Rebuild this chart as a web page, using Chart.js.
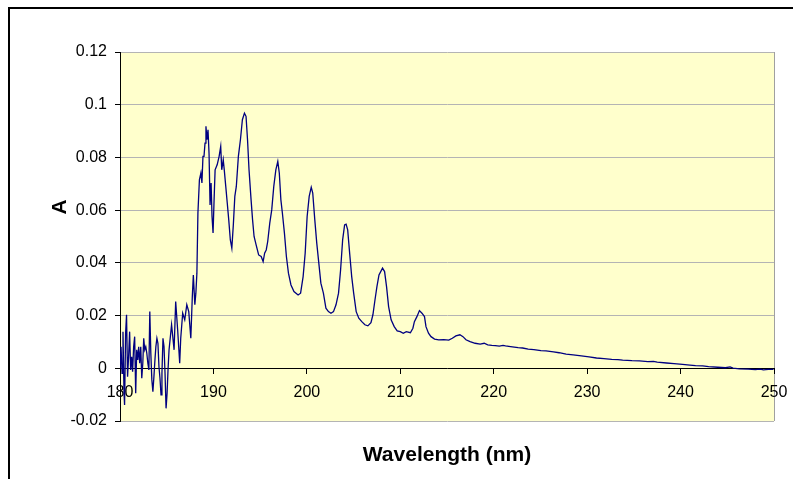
<!DOCTYPE html>
<html lang="en">
<head>
    <meta charset="UTF-8">
    <title>Absorbance spectrum</title>
    <script src="https://cdn.jsdelivr.net/npm/chart.js"></script>
    <style>
        body {
            margin: 0;
            padding: 0;
            background-color: #ffffff;
        }
        #wrap {
            width: 793px;
            height: 479px;
        }
    </style>
</head>
<body>
    <div id="wrap"><canvas id="spectrum" width="793" height="479"></canvas></div>
    <script>
        // wavelength (nm)
        const wavelength = [
            180.00, 180.11, 180.22, 180.32, 180.43, 180.49, 180.60, 180.70, 180.81, 180.92,
            181.03, 181.14, 181.25, 181.35, 181.46, 181.57, 181.68, 181.79, 181.90, 182.00,
            182.11, 182.22, 182.33, 182.44, 182.54, 182.65, 182.76, 182.87, 182.98, 183.09,
            183.19, 183.30, 183.41, 183.52, 183.63, 183.74, 183.84, 183.95, 184.06, 184.17,
            184.28, 184.39, 184.49, 184.60, 184.71, 184.82, 184.93, 185.04, 185.14, 185.25,
            185.52, 185.79, 185.96, 186.17, 186.39, 186.50, 186.71, 186.93, 187.15, 187.36,
            187.58, 187.74, 187.85, 188.01, 188.12, 188.23, 188.34, 188.50, 188.66, 188.77,
            188.88, 188.99, 189.10, 189.20, 189.31, 189.42, 189.53, 189.64, 189.75, 189.85,
            189.96, 190.07, 190.18, 190.40, 190.61, 190.78, 190.89, 191.05, 191.16, 191.32,
            191.48, 191.64, 191.81, 191.97, 192.13, 192.29, 192.45, 192.67, 192.89, 193.10,
            193.32, 193.49, 193.65, 193.81, 194.03, 194.19, 194.35, 194.57, 194.84, 195.11,
            195.32, 195.48, 195.65, 195.81, 196.03, 196.24, 196.46, 196.68, 196.89, 197.05,
            197.22, 197.38, 197.60, 197.81, 198.03, 198.30, 198.62, 199.06, 199.33, 199.60,
            199.82, 200.03, 200.25, 200.47, 200.63, 200.85, 201.06, 201.28, 201.50, 201.77,
            202.04, 202.31, 202.58, 202.85, 203.12, 203.39, 203.61, 203.83, 204.04, 204.20,
            204.37, 204.58, 204.80, 205.01, 205.28, 205.56, 205.88, 206.21, 206.53, 206.86,
            207.07, 207.29, 207.50, 207.72, 208.10, 208.32, 208.53, 208.75, 209.02, 209.35,
            209.67, 210.00, 210.32, 210.64, 211.08, 211.35, 211.51, 211.78, 212.05, 212.32,
            212.59, 212.75, 213.02, 213.29, 213.67, 214.11, 214.65, 215.19, 215.57, 215.95,
            216.38, 216.71, 217.03, 217.47, 218.01, 218.55, 218.98, 219.36, 219.80, 220.17,
            220.60, 221.00, 221.26, 221.80, 222.20, 222.61, 223.10, 223.69, 224.30, 225.05,
            225.60, 226.40, 227.00, 227.75, 228.50, 229.38, 230.20, 231.00, 231.80, 232.63,
            233.30, 233.80, 234.79, 235.60, 236.50, 237.10, 237.50, 238.50, 239.30, 240.21,
            241.00, 241.60, 242.37, 243.00, 243.99, 244.80, 245.30, 245.62, 246.30, 247.24,
            248.00, 248.50, 248.87, 249.40, 249.95
        ];

        // absorbance A at each wavelength
        const absorbance = [
            0, 0.0082, -0.0019, 0.0139, -0.0095, -0.0139, 0.0133, 0.0203, -0.0032, 0.0044,
            0.0139, -0.0006, 0.0044, -0.0013, 0.0082, 0.0120, -0.0095, 0.0070, 0.0032, 0.0082,
            0.0019, 0.0082, -0.0038, 0.0019, 0.0114, 0.0070, 0.0082, 0.0057, 0.0019, -0.0006,
            0.0215, 0.0057, -0.0044, -0.0089, -0.0032, 0.0032, 0.0082, 0.0114, 0.0095, 0.0006,
            -0.0038, -0.0101, -0.0019, 0.0114, 0.0082, -0.0019, -0.0152, -0.0095, -0.0006, 0.0070,
            0.0165, 0.0070, 0.0253, 0.0146, 0.0019, 0.0114, 0.0209, 0.0184, 0.0241, 0.0215,
            0.0114, 0.0272, 0.0354, 0.0241, 0.0285, 0.0361, 0.0589, 0.0715, 0.0741, 0.0703,
            0.0804, 0.0804, 0.0854, 0.0918, 0.0867, 0.0905, 0.0816, 0.0620, 0.0703, 0.0576,
            0.0513, 0.0639, 0.0753, 0.0772, 0.0804, 0.0842, 0.0753, 0.0791, 0.0753, 0.0690,
            0.0627, 0.0563, 0.0487, 0.0456, 0.0544, 0.0652, 0.0690, 0.0804, 0.0867, 0.0943,
            0.0968, 0.0956, 0.0867, 0.0753, 0.0639, 0.0563, 0.0500, 0.0468, 0.0430, 0.0424,
            0.0405, 0.0437, 0.0449, 0.0481, 0.0551, 0.0601, 0.0690, 0.0753, 0.0785, 0.0741,
            0.0639, 0.0589, 0.0513, 0.0424, 0.0361, 0.0316, 0.0291, 0.0278, 0.0285, 0.0348,
            0.0437, 0.0576, 0.0652, 0.0687, 0.0665, 0.0563, 0.0475, 0.0399, 0.0323, 0.0285,
            0.0228, 0.0215, 0.0209, 0.0215, 0.0241, 0.0285, 0.0373, 0.0487, 0.0544, 0.0547,
            0.0525, 0.0437, 0.0348, 0.0285, 0.0215, 0.0190, 0.0177, 0.0165, 0.0161, 0.0173,
            0.0203, 0.0259, 0.0310, 0.0354, 0.0380, 0.0367, 0.0310, 0.0234, 0.0184, 0.0158,
            0.0142, 0.0139, 0.0133, 0.0139, 0.0135, 0.0152, 0.0177, 0.0196, 0.0219, 0.0209,
            0.0196, 0.0158, 0.0133, 0.0120, 0.0111, 0.0108, 0.0109, 0.0107, 0.0114, 0.0123,
            0.0127, 0.0120, 0.0108, 0.0101, 0.0095, 0.0092, 0.0095, 0.0089, 0.0087, 0.0086,
            0.0084, 0.0087, 0.0085, 0.0082, 0.0080, 0.0078, 0.0077, 0.0073, 0.0071, 0.0067,
            0.0066, 0.0062, 0.0059, 0.0054, 0.0051, 0.0047, 0.0043, 0.0039, 0.0037, 0.0034,
            0.0033, 0.0031, 0.0029, 0.0028, 0.0025, 0.0026, 0.0023, 0.0020, 0.0018, 0.0015,
            0.0012, 0.0010, 0.0009, 0.0006, 0.0004, 0.0002, 0.0005, 0.0001, -0.0002, -0.0003,
            -0.0005, -0.0003, -0.0006, -0.0004, -0.0004
        ];

        const xTicks = [180, 190, 200, 210, 220, 230, 240, 250];
        const xTickLabels = ['180', '190', '200', '210', '220', '230', '240', '250'];
        const yTicks = [-0.02, 0, 0.02, 0.04, 0.06, 0.08, 0.1, 0.12];
        const yTickLabels = ['-0.02', '0', '0.02', '0.04', '0.06', '0.08', '0.1', '0.12'];

        const FONT = "'Liberation Sans', Arial, sans-serif";
        Chart.defaults.font.family = FONT;
        Chart.defaults.color = '#000';

        // yellow plot area, grey frame, black outer border, rotated "A" title
        const framePlugin = {
            id: 'frame',
            beforeDraw(chart) {
                const { ctx, chartArea: a } = chart;
                ctx.save();
                ctx.fillStyle = '#ffffff';
                ctx.fillRect(0, 0, chart.width, chart.height);
                ctx.fillStyle = '#000000';
                ctx.fillRect(8, 7, chart.width - 8, 2);
                ctx.fillRect(8, 7, 2, chart.height - 7);
                ctx.fillStyle = '#ffffcc';
                ctx.fillRect(a.left, a.top, a.right - a.left, a.bottom - a.top);
                ctx.strokeStyle = '#a0a0a0';
                ctx.lineWidth = 1;
                ctx.beginPath();
                ctx.moveTo(Math.round(a.right) + 0.5, a.top);
                ctx.lineTo(Math.round(a.right) + 0.5, a.bottom);
                ctx.stroke();
                ctx.restore();
            },
            afterDraw(chart) {
                const ctx = chart.ctx;
                ctx.save();
                ctx.translate(60, 207);
                ctx.rotate(-Math.PI / 2);
                ctx.font = 'bold 21px ' + FONT;
                ctx.fillStyle = '#000';
                ctx.textAlign = 'center';
                ctx.textBaseline = 'middle';
                ctx.fillText('A', 0, 0);
                ctx.restore();
            }
        };

        const points = wavelength.map((w, i) => ({ x: w, y: absorbance[i] }));

        // keep tick labels from widening the margins
        function noSidePadding(scale) {
            scale.paddingLeft = 0;
            scale.paddingRight = 0;
        }

        const config = {
            type: 'line',
            data: {
                datasets: [{
                    label: 'A',
                    data: points,
                    xAxisID: 'x2',
                    yAxisID: 'y',
                    borderColor: '#000080',
                    borderWidth: 1.3,
                    pointRadius: 0,
                    tension: 0,
                    fill: false
                }]
            },
            options: {
                responsive: false,
                animation: false,
                layout: { padding: { left: 0, top: 52, right: 19, bottom: 0 } },
                plugins: {
                    legend: { display: false },
                    tooltip: { enabled: false }
                },
                scales: {
                    // bottom axis only carries the title
                    x: {
                        type: 'linear',
                        position: 'bottom',
                        min: 180,
                        max: 250,
                        ticks: { display: false },
                        grid: { display: false, drawTicks: false },
                        border: { display: false },
                        title: {
                            display: true,
                            text: 'Wavelength (nm)',
                            font: { size: 21, weight: 'bold' },
                            color: '#000',
                            padding: { top: 0, bottom: 11 }
                        },
                        afterFit(scale) {
                            scale.height = 58;
                            noSidePadding(scale);
                        }
                    },
                    // axis drawn across y = 0, like the spreadsheet
                    x2: {
                        type: 'linear',
                        axis: 'x',
                        position: { y: 0 },
                        min: 180,
                        max: 250,
                        afterBuildTicks(scale) {
                            scale.ticks = xTicks.map(v => ({ value: v }));
                        },
                        afterFit: noSidePadding,
                        ticks: {
                            autoSkip: false,
                            maxRotation: 0,
                            padding: 10,
                            font: { size: 16 },
                            color: '#000',
                            callback: (v, i) => xTickLabels[i]
                        },
                        grid: {
                            drawOnChartArea: false,
                            drawTicks: true,
                            tickLength: 5,
                            tickColor: '#000',
                            color: '#000'
                        },
                        border: { color: '#000', width: 1 }
                    },
                    y: {
                        type: 'linear',
                        position: 'left',
                        min: -0.02,
                        max: 0.12,
                        afterBuildTicks(scale) {
                            scale.ticks = yTicks.map(v => ({ value: v }));
                        },
                        ticks: {
                            padding: 8,
                            font: { size: 16 },
                            color: '#000',
                            callback: (v, i) => yTickLabels[i]
                        },
                        grid: {
                            color: '#b4b4b4',
                            tickColor: '#000',
                            tickLength: 5,
                            z: -1
                        },
                        border: { color: '#000', width: 1 },
                        afterFit(scale) { scale.width = 120; }
                    }
                }
            },
            plugins: [framePlugin]
        };

        const ctx = document.getElementById('spectrum').getContext('2d');
        const spectrumChart = new Chart(ctx, config);
    </script>
</body>
</html>
